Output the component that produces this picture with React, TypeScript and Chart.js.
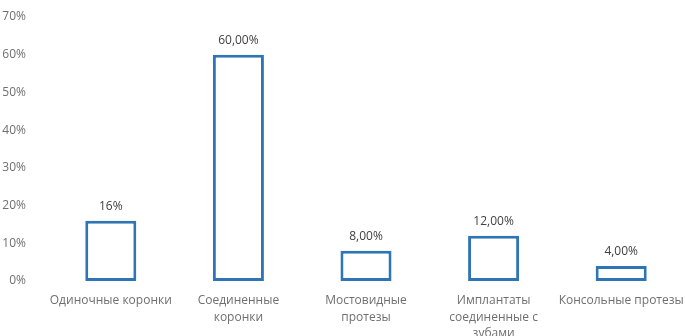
import React, { useEffect, useRef } from "react";
import { Chart, registerables } from "chart.js";

Chart.register(...registerables);

const categories: string[][] = [
  ["Одиночные коронки"],
  ["Соединенные", "коронки"],
  ["Мостовидные", "протезы"],
  ["Имплантаты", "соединенные с", "зубами"],
  ["Консольные протезы"],
];
const values: number[] = [16, 60, 8, 12, 4];
const valueLabels: string[] = ["16%", "60,00%", "8,00%", "12,00%", "4,00%"];
const yTicks: number[] = [0, 10, 20, 30, 40, 50, 60, 70];

const FONT = "'Open Sans', 'Noto Sans', sans-serif";
const GRAY = "#6f6f6f";

const valueLabelPlugin = {
  id: "valueLabels",
  afterDatasetsDraw(chart: any) {
    const ctx = chart.ctx;
    const meta = chart.getDatasetMeta(0);
    ctx.save();
    ctx.font = `12px ${FONT}`;
    ctx.fillStyle = "#404040";
    ctx.textAlign = "center";
    ctx.textBaseline = "middle";
    meta.data.forEach((el: any, i: number) => {
      ctx.fillText(valueLabels[i], el.x, el.y - 14);
    });
    ctx.restore();
  },
};

export default function App() {
  const ref = useRef<HTMLCanvasElement | null>(null);
  useEffect(() => {
    if (!ref.current) return;
    const chart = new Chart(ref.current, {
      type: "bar",
      data: {
        labels: categories,
        datasets: [
          {
            data: values,
            backgroundColor: "#ffffff",
            borderColor: "#2E75B6",
            borderWidth: 3,
            borderSkipped: false,
            barPercentage: 0.4,
            categoryPercentage: 1,
          },
        ],
      },
      options: {
        responsive: false,
        animation: false,
        layout: { padding: { top: 17, right: 0, left: 0, bottom: 0 } },
        plugins: { legend: { display: false }, tooltip: { enabled: false } },
        scales: {
          x: {
            grid: { display: false },
            border: { display: false },
            ticks: {
              color: GRAY,
              font: { family: FONT, size: 12, lineHeight: 1.4 },
              maxRotation: 0,
              autoSkip: false,
              padding: 3,
            },
            afterFit: (s: any) => {
              s.height = 55;
              s.paddingLeft = 0;
              s.paddingRight = 0;
            },
          },
          y: {
            min: 0,
            max: 70,
            grid: { display: false },
            border: { display: false },
            afterBuildTicks: (s: any) => {
              s.ticks = yTicks.map((v) => ({ value: v }));
            },
            ticks: {
              color: GRAY,
              font: { family: FONT, size: 12 },
              padding: 13,
              callback: (v: any) => `${v}%`,
            },
            afterFit: (s: any) => {
              s.width = 47;
              s.paddingTop = 0;
              s.paddingBottom = 0;
            },
          },
        },
      },
      plugins: [valueLabelPlugin],
    });
    return () => chart.destroy();
  }, []);
  return (
    <div style={{ position: "fixed", left: 0, top: 0, width: 685, height: 336, background: "#fff" }}>
      <canvas ref={ref} width={685} height={336} />
    </div>
  );
}
